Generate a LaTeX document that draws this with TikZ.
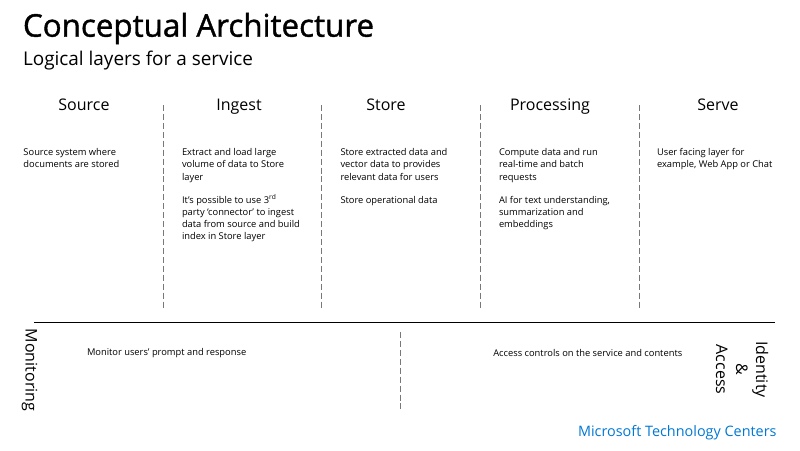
\documentclass[tikz,border=0pt]{standalone}
\usepackage{fontspec}
\setmainfont{Open Sans}
\newfontfamily\headfont{Open Sans}[FakeBold=1.2]
\definecolor{mtcblue}{RGB}{0,120,212}
\definecolor{divider}{RGB}{120,120,120}
\newcommand{\layerbox}[1]{\parbox[t]{130pt}{\raggedright #1}}
\begin{document}
\begin{tikzpicture}[x=0.75pt,y=-0.75pt,
  every node/.style={inner sep=0pt, outer sep=0pt},
  heading/.style={anchor=base west, font=\headfont\fontsize{23.5}{28}\selectfont},
  subheading/.style={anchor=base west, font=\fontsize{14.2}{17}\selectfont},
  layer/.style={anchor=base, font=\fontsize{12}{14}\selectfont},
  body/.style={anchor=base west, font=\fontsize{7}{9.1}\selectfont},
  sidelabel/.style={rotate=-90, align=center, font=\fontsize{12}{15}\selectfont},
  note/.style={anchor=west, font=\fontsize{7}{8}\selectfont},
  sep/.style={draw=divider, line width=0.6pt, dash pattern=on 4.5pt off 2.2pt},
  rule/.style={draw=black, line width=0.8pt}
]
\useasboundingbox (0,0) rectangle (800,450);

% title block
\node[heading] (title) at (23,36.7) {Conceptual Architecture};
\node[subheading] (subtitle) at (23,65.7) {Logical layers for a service};

% layer headings
\node[layer] (hsource) at (84,110) {Source};
\node[layer] (hingest) at (239,110) {Ingest};
\node[layer] (hstore) at (386,110) {Store};
\node[layer] (hproc) at (550,110) {Processing};
\node[layer] (hserve) at (718,110) {Serve};

% column separators
\foreach \n/\x in {a/163,b/321,c/480,d/639}{
  \coordinate (\n top) at (\x,105);
  \coordinate (\n bot) at (\x,310);
  \draw[sep] (\n top) -- (\n bot);
}

% layer descriptions
\node[body] (tsource) at (23.5,155.8) {\layerbox{Source system where\\documents are stored}};
\node[body] (tingest) at (182,155.8) {\layerbox{Extract and load large\\volume of data to Store\\layer\\[8.2pt]It’s possible to use 3\textsuperscript{rd}\\party ‘connector’ to ingest\\data from source and build\\index in Store layer}};
\node[body] (tstore) at (340.5,155.8) {\layerbox{Store extracted data and\\vector data to provides\\relevant data for users\\[8.2pt]Store operational data}};
\node[body] (tproc) at (499,155.8) {\layerbox{Compute data and run\\real-time and batch\\requests\\[8.2pt]AI for text understanding,\\summarization and\\embeddings}};
\node[body] (tserve) at (657,155.8) {\layerbox{User facing layer for\\example, Web App or Chat}};

% cross-cutting concerns
\coordinate (rulel) at (34,322.3);
\coordinate (ruler) at (775,322.3);
\draw[rule] (rulel) -- (ruler);

\node[sidelabel] (monitoring) at (29.5,370) {Monitoring};
\node[note] (tmon) at (87,353.3) {Monitor users’ prompt and response};

\coordinate (midtop) at (400,332);
\coordinate (midbot) at (400,410);
\draw[sep] (midtop) -- (midbot);

\node[note] (tacc) at (493.3,353.3) {Access controls on the service and contents};
\node[sidelabel] (identity) at (742,369.5) {Identity\\\&\\Access};

% footer
\node[anchor=base east, font=\fontsize{10.8}{13}\selectfont, text=mtcblue] (footer) at (776.5,436.7) {Microsoft Technology Centers};
\end{tikzpicture}
\end{document}
